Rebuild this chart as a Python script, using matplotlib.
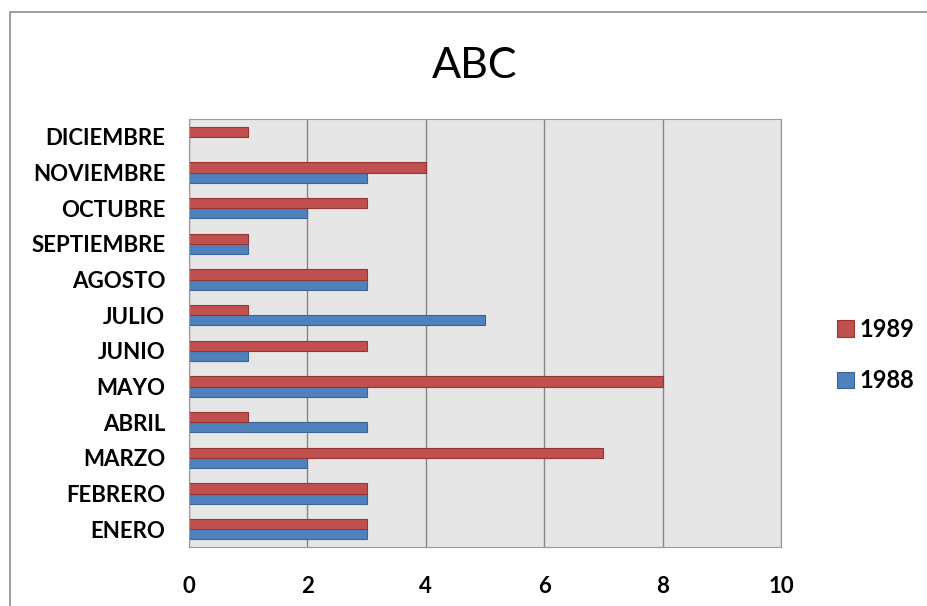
import matplotlib.pyplot as plt
import numpy as np
from matplotlib.patches import Rectangle

# Monthly counts per year
months = ['ENERO', 'FEBRERO', 'MARZO', 'ABRIL', 'MAYO', 'JUNIO',
          'JULIO', 'AGOSTO', 'SEPTIEMBRE', 'OCTUBRE', 'NOVIEMBRE', 'DICIEMBRE']
y1988 = [3, 3, 2, 3, 3, 1, 5, 3, 1, 2, 3, 0]
y1989 = [3, 3, 7, 1, 8, 3, 1, 3, 1, 3, 4, 1]

red = '#c0504d'
blue = '#4f81bd'

plt.rcParams['font.family'] = ['Lato', 'DejaVu Sans']

fig = plt.figure(figsize=(9.27, 6.06), dpi=100)
W, H = 927, 606

# outer chart frame
fig.patches.append(Rectangle((10 / W, -0.1), 1.1, (H - 12) / H + 0.1,
                             transform=fig.transFigure, fill=False,
                             edgecolor='#8c8c8c', linewidth=1.2))

ax = fig.add_axes([189 / W, 59 / H, 592 / W, 428 / H])
ax.set_facecolor('#e6e6e6')

pos = np.arange(len(months))
h = 1 / 3.5
ax.barh(pos - h / 2, y1988, height=h, color=blue, edgecolor='#3a6595',
        linewidth=0.8, label='1988')
ax.barh(pos + h / 2, y1989, height=h, color=red, edgecolor='#943634',
        linewidth=0.8, label='1989')

ax.set_xlim(0, 10)
ax.set_ylim(-0.5, len(months) - 0.5)
ax.set_xticks([0, 2, 4, 6, 8, 10])
ax.set_yticks(pos)
ax.set_yticklabels(months)
ax.xaxis.grid(True, color='#868686', linewidth=1)
ax.set_axisbelow(True)
for s in ax.spines.values():
    s.set_color('#9a9a9a')
ax.tick_params(length=0)
ax.tick_params(axis='x', pad=21, labelsize=16)
ax.tick_params(axis='y', pad=17, labelsize=16)
for lbl in ax.get_xticklabels() + ax.get_yticklabels():
    lbl.set_fontweight('bold')

fig.text(475 / W, 1 - 66 / H, 'ABC', ha='center', va='center', fontsize=31)

handles, labels = ax.get_legend_handles_labels()
leg = fig.legend(handles[::-1], labels[::-1], loc='center left',
                 bbox_to_anchor=(816 / W, 1 - 355 / H), frameon=False,
                 prop={'size': 17, 'weight': 'bold'}, handlelength=0.7,
                 handleheight=0.7, handletextpad=0.25, labelspacing=1.2)

fig.savefig('out.png', dpi=100)
